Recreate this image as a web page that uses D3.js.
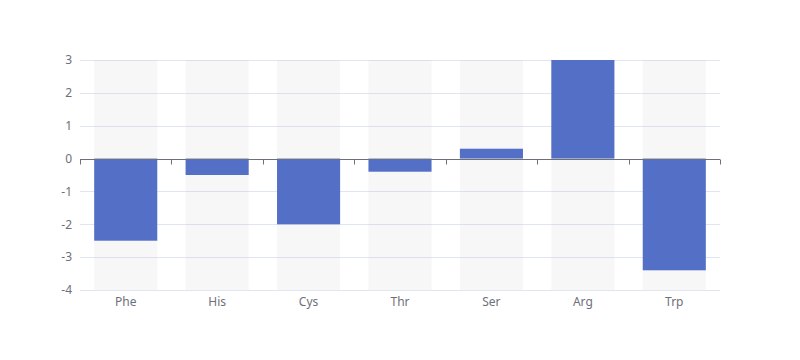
<!DOCTYPE html>
<html>
<head>
<meta charset="utf-8">
<script src="https://cdn.jsdelivr.net/npm/d3@7"></script>
<style>
  body { margin: 0; background: #fff; }
  svg text { font-family: "Microsoft YaHei", "Noto Sans", sans-serif; font-size: 12px; fill: #6e7079; }
</style>
</head>
<body>
<div id="chart"></div>
<script>
var categories = ['Phe', 'His', 'Cys', 'Thr', 'Ser', 'Arg', 'Trp'];
var values = [-2.5, -0.5, -2, -0.4, 0.3, 3, -3.4];
var yTicks = [-4, -3, -2, -1, 0, 1, 2, 3];

var outerWidth = 800;
var outerHeight = 360;
var margin = {top: 60, right: 80, bottom: 70, left: 80};
var width = outerWidth - margin.left - margin.right;
var height = outerHeight - margin.top - margin.bottom;

var svg = d3.select('#chart').append('svg')
  .attr('width', outerWidth)
  .attr('height', outerHeight);

var g = svg.append('g')
  .attr('transform', 'translate(' + margin.left + ',' + margin.top + ')');

var x = d3.scaleBand()
  .domain(categories)
  .range([0, width])
  .paddingInner(0.31)
  .paddingOuter(0.155);

var xb = d3.scaleBand().domain(categories).range([0, width]);

var y = d3.scaleLinear()
  .domain([-4, 3])
  .range([height, 0]);

// grid lines
g.selectAll('line.grid')
  .data(yTicks)
  .enter().append('line')
  .attr('class', 'grid')
  .attr('x1', 0).attr('x2', width)
  .attr('y1', function(d){ return Math.round(y(d)) + 0.5; })
  .attr('y2', function(d){ return Math.round(y(d)) + 0.5; })
  .attr('stroke', '#e0e6f1');

// bar backgrounds
g.selectAll('rect.bg')
  .data(categories)
  .enter().append('rect')
  .attr('class', 'bg')
  .attr('x', function(d){ return x(d); })
  .attr('y', 0)
  .attr('width', x.bandwidth())
  .attr('height', height)
  .attr('fill', 'rgba(180,180,180,0.1)');

// bars
g.selectAll('rect.bar')
  .data(values)
  .enter().append('rect')
  .attr('class', 'bar')
  .attr('x', function(d, i){ return x(categories[i]); })
  .attr('y', function(d){ return y(Math.max(0, d)); })
  .attr('width', x.bandwidth())
  .attr('height', function(d){ return Math.abs(y(d) - y(0)); })
  .attr('fill', '#5470c6');

// y axis labels
var yAxis = d3.axisLeft(y).tickValues(yTicks).tickSize(0).tickPadding(8)
  .tickFormat(function(d){ return String(d); });
var yg = g.append('g').call(yAxis);
yg.select('.domain').remove();
yg.selectAll('text').attr('fill', '#6e7079').style('font-size', '12px');

// x axis line at zero with ticks at band boundaries
var zeroY = Math.round(y(0)) + 0.5;
g.append('line')
  .attr('x1', 0).attr('x2', width)
  .attr('y1', zeroY).attr('y2', zeroY)
  .attr('stroke', '#6e7079');

var bounds = categories.map(function(d){ return xb(d); }).concat([width]);
g.selectAll('line.tick')
  .data(bounds)
  .enter().append('line')
  .attr('class', 'tick')
  .attr('x1', function(d){ return Math.round(d) + 0.5; })
  .attr('x2', function(d){ return Math.round(d) + 0.5; })
  .attr('y1', zeroY).attr('y2', zeroY + 5)
  .attr('stroke', '#6e7079');

// x labels at bottom
g.selectAll('text.xlabel')
  .data(categories)
  .enter().append('text')
  .attr('class', 'xlabel')
  .attr('x', function(d){ return xb(d) + xb.bandwidth() / 2; })
  .attr('y', height + 16)
  .attr('text-anchor', 'middle')
  .text(function(d){ return d; });
</script>
</body>
</html>
